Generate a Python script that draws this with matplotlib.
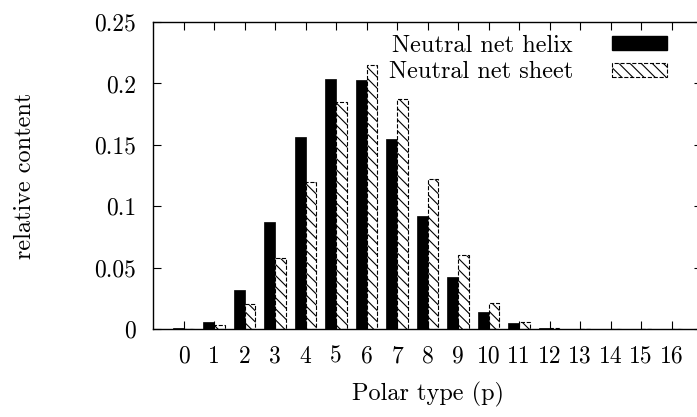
import numpy as np
import matplotlib
matplotlib.use("Agg")
import matplotlib.pyplot as plt
from matplotlib.patches import Patch

polar_type = list(range(17))
helix = [0.001, 0.006, 0.032, 0.087, 0.156, 0.204, 0.203, 0.155, 0.092, 0.042,
         0.014, 0.0045, 0.001, 0.0003, 0.0, 0.0, 0.0]
sheet = [0.0003, 0.0033, 0.020, 0.058, 0.120, 0.185, 0.215, 0.187, 0.122, 0.060,
         0.021, 0.0055, 0.0008, 0.0002, 0.0, 0.0, 0.0]
y_ticks = [0, 0.05, 0.1, 0.15, 0.2, 0.25]
y_tick_labels = ['0', '0.05', '0.1', '0.15', '0.2', '0.25']

plt.rcParams['font.family'] = ['cmr10', 'DejaVu Serif']
plt.rcParams['axes.formatter.use_mathtext'] = True
plt.rcParams['hatch.linewidth'] = 0.8

fig = plt.figure(figsize=(6.97, 4.17), dpi=100)
ax = fig.add_axes([0.2195, 0.211, 0.788, 0.736])

x = np.array(polar_type)
w = 0.35
ax.bar(x - w / 2, helix, width=w, color='black', edgecolor='black', linewidth=0.5)
ax.bar(x + w / 2, sheet, width=w, color='white', edgecolor='black',
       hatch='\\\\\\', linestyle='--', linewidth=0.8)

ax.set_xlim(-1, 17)
ax.set_ylim(0, 0.25)
ax.set_xticks(polar_type)
ax.set_xticklabels([str(p) for p in polar_type])
ax.set_yticks(y_ticks)
ax.set_yticklabels(y_tick_labels)
ax.tick_params(direction='in', top=True, right=True, length=6, width=0.8,
               labelsize=17)
ax.tick_params(axis='y', pad=12)
ax.tick_params(axis='x', pad=12)
for s in ax.spines.values():
    s.set_linewidth(1.0)

ax.set_xlabel('Polar type (p)', fontsize=17.5, labelpad=10)
ax.set_ylabel('relative content', fontsize=17.5, labelpad=42)

handles = [Patch(facecolor='black', edgecolor='black'),
           Patch(facecolor='white', edgecolor='black', hatch='\\\\\\', linestyle='--', linewidth=0.8)]
ax.legend(handles, ['Neutral net helix', 'Neutral net sheet'], loc='upper right',
          bbox_to_anchor=(0.975, 1.03), frameon=False, markerfirst=False,
          fontsize=17.5, handlelength=2.25, handleheight=0.5, labelspacing=0.18,
          handletextpad=1.6)

fig.savefig('out.png', dpi=100)
